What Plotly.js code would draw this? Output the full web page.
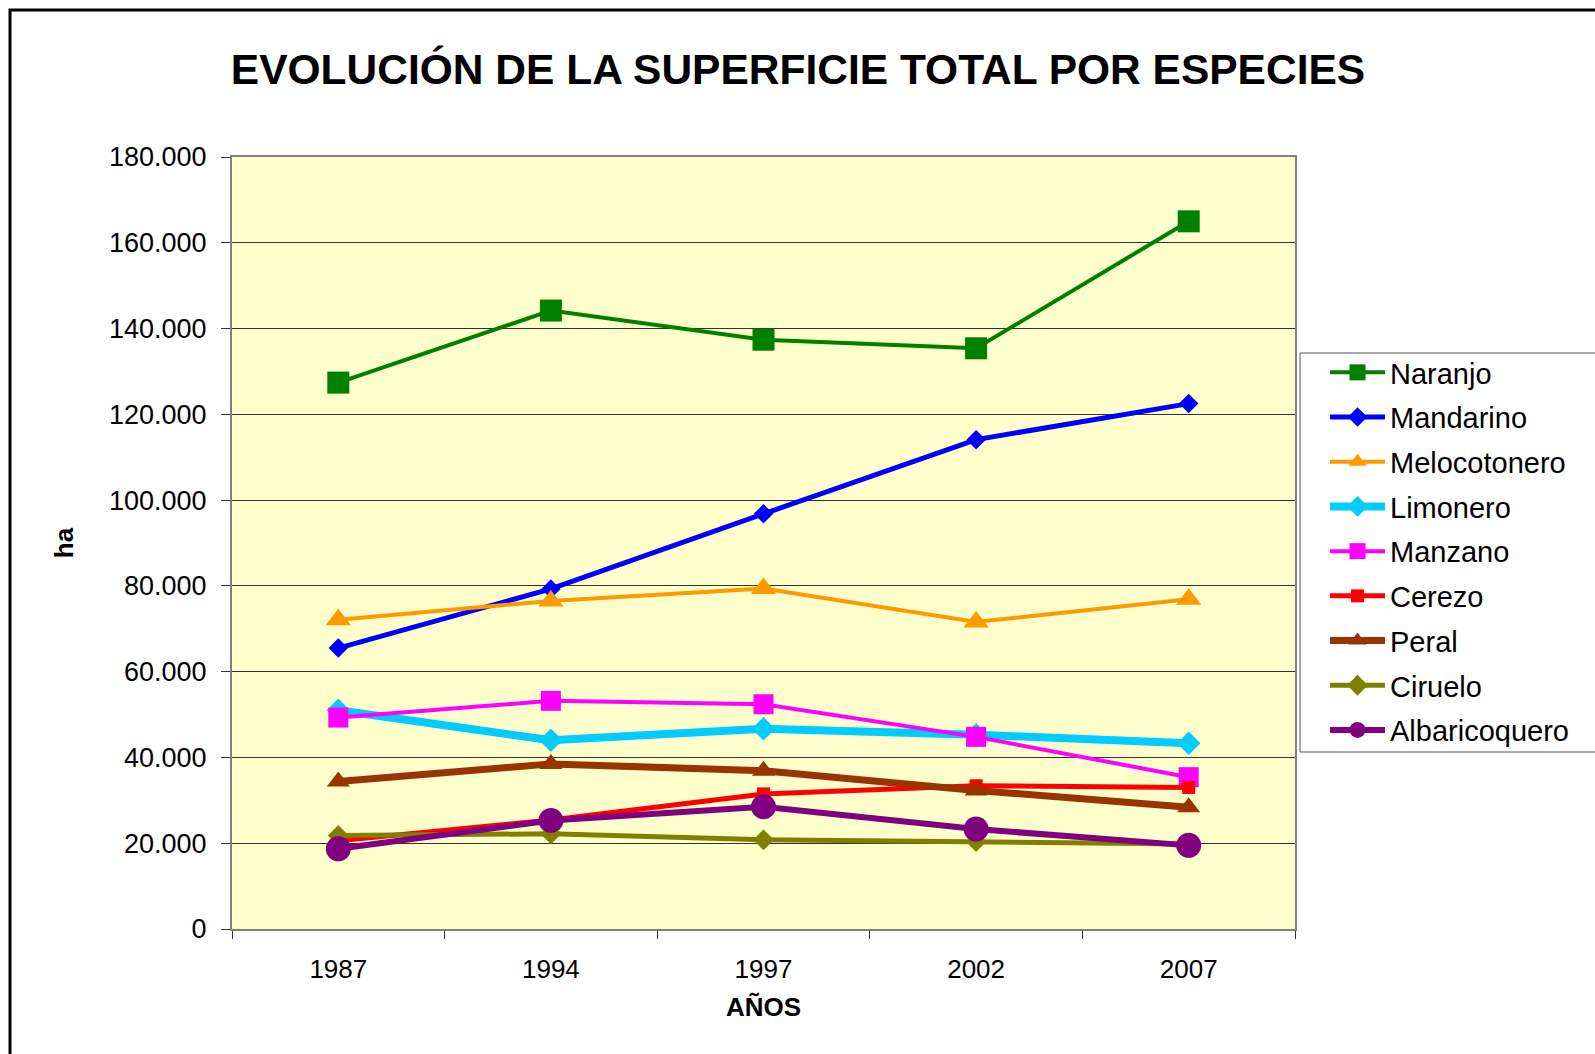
<!DOCTYPE html>
<html>
<head>
<meta charset="utf-8">
<script src="https://cdn.plot.ly/plotly-3.0.1.min.js"></script>
<style>
html,body{margin:0;padding:0;background:#fff;overflow:hidden;}
#chart{width:1595px;height:1054px;}
</style>
</head>
<body>
<div id="chart"></div>
<script>
const years = ["1987", "1994", "1997", "2002", "2007"];
const seriesNames = ["Naranjo", "Mandarino", "Melocotonero", "Limonero", "Manzano", "Cerezo", "Peral", "Ciruelo", "Albaricoquero"];
const naranjo       = [127400, 144200, 137400, 135400, 165000];
const mandarino     = [65500, 79300, 96800, 114100, 122500];
const melocotonero  = [72100, 76500, 79400, 71600, 76900];
const limonero      = [51000, 44000, 46700, 45300, 43300];
const manzano       = [49300, 53200, 52400, 44800, 35400];
const cerezo        = [20600, 25400, 31500, 33400, 33000];
const peral         = [34400, 38500, 36900, 32300, 28400];
const ciruelo       = [21800, 22200, 20800, 20400, 19800];
const albaricoquero = [18700, 25300, 28500, 23300, 19500];
const yTickValues   = [0, 20000, 40000, 60000, 80000, 100000, 120000, 140000, 160000, 180000];

const values = [naranjo, mandarino, melocotonero, limonero, manzano, cerezo, peral, ciruelo, albaricoquero];
const colors = ["#008000", "#0000FF", "#FF9900", "#00CCFF", "#FF00FF", "#FF0000", "#993300", "#808000", "#800080"];
const symbols = ["square", "diamond", "triangle-up", "diamond", "square", "square", "triangle-up", "diamond", "circle"];
const msizes = [22, 15, 22, 18, 20, 13, 20, 16, 25];
const lwidths = [4, 5, 4, 8, 4, 5, 7, 5, 6];

const font = "Liberation Sans, Arial, Helvetica, sans-serif";

const traces = seriesNames.map((n, i) => ({
  type: "scatter",
  mode: "lines+markers",
  name: n,
  legendgroup: "g" + i,
  x: years,
  y: values[i],
  line: {color: colors[i], width: lwidths[i]},
  marker: {color: colors[i], symbol: symbols[i], size: msizes[i], line: {width: 0}},
  cliponaxis: false
}));

// plot area in pixels: x 232..1295, y 157..929
const L = 232, R = 1295, T = 157, B = 929;
const W = R - L, H = B - T;
const px = v => (v - L) / W;
const py = v => (B - v) / H;

const layout = {
  width: 1595,
  height: 1054,
  margin: {l: L, r: 1595 - R, t: T, b: 1054 - B, pad: 0},
  paper_bgcolor: "#FFFFFF",
  plot_bgcolor: "#FFFFCC",
  separators: ",.",
  font: {family: font, color: "#000000", size: 26},
  showlegend: true,
  title: {
    text: "<b>EVOLUCIÓN DE LA SUPERFICIE TOTAL POR ESPECIES</b>",
    font: {family: font, size: 42.5, color: "#000000"},
    xref: "paper", x: px(798), xanchor: "center",
    yref: "container", y: 1 - 69 / 1054, yanchor: "middle"
  },
  xaxis: {
    type: "category",
    range: [-0.5, 4.5],
    tickson: "boundaries",
    ticks: "outside",
    ticklen: 8,
    tickwidth: 1,
    tickcolor: "#333333",
    showgrid: false,
    showline: true,
    mirror: true,
    linecolor: "#808080",
    linewidth: 2,
    zeroline: false,
    ticklabelstandoff: 16,
    tickfont: {family: font, size: 26, color: "#000000"},
    title: {text: "<b>AÑOS</b>", font: {family: font, size: 26, color: "#000000"}, standoff: 15},
    fixedrange: true
  },
  yaxis: {
    range: [0, 180000],
    tickvals: yTickValues,
    tickformat: ",d",
    ticks: "outside",
    ticklen: 9,
    tickwidth: 1,
    tickcolor: "#333333",
    showgrid: true,
    gridcolor: "#333333",
    gridwidth: 1,
    showline: true,
    mirror: true,
    linecolor: "#808080",
    linewidth: 2,
    zeroline: false,
    ticklabelstandoff: 9,
    tickfont: {family: font, size: 27, color: "#000000"},
    title: {text: "<b>ha</b>", font: {family: font, size: 26, color: "#000000"}, standoff: 28},
    fixedrange: true
  },
  legend: {
    x: px(1300), xanchor: "left",
    y: py(347), yanchor: "top",
    bgcolor: "rgba(0,0,0,0)",
    borderwidth: 0,
    font: {family: font, size: 29, color: "#000000"},
    traceorder: "grouped",
    tracegroupgap: 4,
    itemwidth: 55,
    indentation: 25
  },
  shapes: [
    {type: "rect", xref: "paper", yref: "paper",
     x0: px(1300), x1: px(1660), y0: py(752), y1: py(353),
     fillcolor: "#FFFFFF", line: {color: "#555555", width: 1}, layer: "above"},
    {type: "path", xref: "paper", yref: "paper",
     path: "M " + px(10) + "," + py(1070) + " L " + px(10) + "," + py(10) + " L " + px(1610) + "," + py(10),
     line: {color: "#000000", width: 3}}
  ]
};

Plotly.newPlot("chart", traces, layout, {staticPlot: true, displayModeBar: false});
</script>
</body>
</html>
